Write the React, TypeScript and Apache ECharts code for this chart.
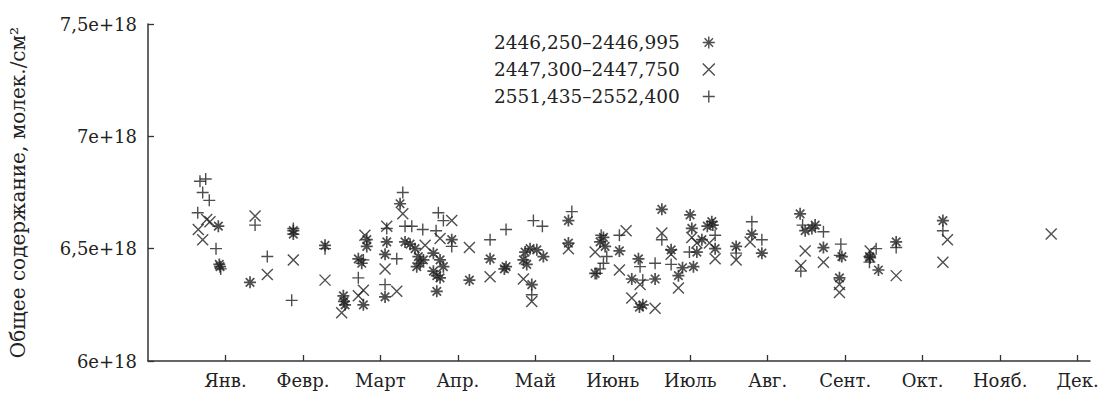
import React, { useEffect, useRef } from "react";
import * as echarts from "echarts";

const MONTHS = ["Янв.", "Февр.", "Март", "Апр.", "Май", "Июнь", "Июль", "Авг.", "Сент.", "Окт.", "Нояб.", "Дек."];
const MONTH_TICKS = [1, 2, 3, 4, 5, 6, 7, 8, 9, 10, 11, 12];

const SERIES_NAMES = ["2446,250–2446,995", "2447,300–2447,750", "2551,435–2552,400"];
const Y_AXIS_NAME = "Общее содержание, молек./см²";
const UNIT = 1e18;

// [month, total content in 1e18 molec./cm²]
const SERIES_STAR: number[][] = [
  [0.908, 6.6], [0.93, 6.42], [0.92, 6.43], [1.317, 6.35], [1.876, 6.565], [1.876, 6.58], [2.285, 6.515],
  [2.522, 6.29], [2.53, 6.265], [2.544, 6.25], [2.715, 6.455], [2.759, 6.435], [2.78, 6.25], [2.824, 6.54],
  [2.824, 6.51], [3.082, 6.53], [3.06, 6.475], [3.06, 6.285], [3.254, 6.7], [3.318, 6.53], [3.383, 6.52],
  [3.447, 6.5], [3.49, 6.465], [3.512, 6.435], [3.469, 6.42], [3.555, 6.45], [3.684, 6.4], [3.728, 6.38],
  [3.77, 6.37], [3.813, 6.42], [3.684, 6.48], [3.77, 6.45], [3.921, 6.54], [3.728, 6.31], [4.149, 6.36],
  [4.416, 6.455], [4.622, 6.42], [4.6, 6.41], [4.868, 6.485], [4.932, 6.5], [5.019, 6.495], [5.104, 6.465],
  [4.846, 6.45], [4.889, 6.43], [4.954, 6.34], [5.427, 6.625], [5.427, 6.525], [5.879, 6.55], [5.836, 6.53],
  [5.901, 6.51], [5.772, 6.39], [6.085, 6.49], [6.245, 6.365], [6.331, 6.455], [6.344, 6.24], [6.387, 6.25],
  [6.546, 6.365], [6.633, 6.675], [6.753, 6.495], [6.847, 6.38], [6.998, 6.65], [7.02, 6.59], [7.15, 6.54],
  [7.085, 6.485], [7.041, 6.42], [6.9, 6.415], [7.278, 6.62], [7.291, 6.605], [7.22, 6.6], [7.321, 6.5],
  [7.592, 6.51], [7.795, 6.565], [7.924, 6.48], [8.418, 6.655], [8.483, 6.58], [8.612, 6.605], [8.57, 6.59],
  [8.719, 6.505], [8.957, 6.465], [8.926, 6.37], [9.313, 6.465], [9.322, 6.46], [9.429, 6.405], [9.658, 6.53],
  [10.261, 6.625],
];

const SERIES_CROSS: number[][] = [
  [0.649, 6.585], [0.706, 6.54], [0.758, 6.63], [0.8, 6.62], [1.382, 6.645], [1.54, 6.385], [1.876, 6.45],
  [2.285, 6.36], [2.5, 6.215], [2.715, 6.29], [2.78, 6.315], [2.8, 6.56], [3.082, 6.6], [3.06, 6.41],
  [3.211, 6.31], [3.289, 6.655], [3.577, 6.515], [3.77, 6.545], [3.921, 6.625], [4.149, 6.505], [4.416, 6.375],
  [4.846, 6.365], [4.954, 6.265], [5.427, 6.5], [5.772, 6.485], [6.172, 6.58], [6.085, 6.405], [6.245, 6.28],
  [6.352, 6.34], [6.546, 6.235], [6.633, 6.57], [6.753, 6.475], [6.847, 6.325], [7.02, 6.55], [7.085, 6.525],
  [7.247, 6.525], [7.321, 6.455], [7.592, 6.45], [7.773, 6.53], [8.483, 6.49], [8.427, 6.425], [8.719, 6.44],
  [8.926, 6.34], [8.926, 6.305], [9.322, 6.49], [9.658, 6.38], [10.32, 6.54], [10.261, 6.44], [11.659, 6.565],
];

const SERIES_PLUS: number[][] = [
  [0.671, 6.8], [0.745, 6.81], [0.706, 6.75], [0.791, 6.715], [0.642, 6.66], [0.878, 6.5], [0.939, 6.41],
  [1.382, 6.605], [1.54, 6.465], [1.855, 6.27], [1.876, 6.59], [2.285, 6.5], [2.715, 6.37], [2.78, 6.45],
  [3.06, 6.34], [3.082, 6.59], [3.211, 6.455], [3.289, 6.75], [3.318, 6.6], [3.405, 6.6], [3.547, 6.585],
  [3.719, 6.58], [3.748, 6.66], [3.813, 6.625], [3.921, 6.51], [4.416, 6.54], [4.622, 6.585], [4.954, 6.295],
  [4.975, 6.625], [5.091, 6.6], [5.471, 6.665], [5.793, 6.39], [5.836, 6.41], [5.879, 6.435], [5.922, 6.465],
  [5.85, 6.56], [6.085, 6.56], [6.352, 6.42], [6.387, 6.36], [6.546, 6.435], [6.633, 6.54], [6.753, 6.43],
  [6.989, 6.485], [7.321, 6.56], [7.592, 6.48], [7.795, 6.62], [7.924, 6.54], [8.427, 6.4], [8.45, 6.605],
  [8.719, 6.575], [8.944, 6.52], [8.93, 6.47], [9.4, 6.5], [9.313, 6.44], [9.658, 6.505], [10.261, 6.58],
];

const SYM_STAR = "path://M5 0L5 10M0 5L10 5M1.46 1.46L8.54 8.54M8.54 1.46L1.46 8.54";
const SYM_CROSS = "path://M0 0L10 10M10 0L0 10";
const SYM_PLUS = "path://M5 0L5 10M0 5L10 5";

const FONT = "DejaVu Serif";
const INK = "#222";

function toData(arr: number[][]) {
  return arr.map(([m, v]) => [m, v * UNIT]);
}

export default function App() {
  const ref = useRef<HTMLDivElement>(null);
  useEffect(() => {
    document.body.style.margin = "0";
    if (!ref.current) return;
    const chart = echarts.init(ref.current, undefined, { renderer: "svg" });
    const mkSeries = (name: string, data: number[][], symbol: string, size: number, bw: number) => ({
      name,
      type: "scatter",
      data: toData(data),
      symbol,
      symbolSize: size,
      itemStyle: { color: INK, borderColor: INK, borderWidth: bw },
      emphasis: { disabled: true },
    });
    chart.setOption({
      animation: false,
      grid: { left: 148, right: 12, top: 24, bottom: 33, containLabel: false },
      legend: {
        orient: "vertical",
        left: 489,
        top: 28,
        align: "right",
        itemWidth: 48,
        itemHeight: 12,
        itemGap: 8,
        textStyle: { fontFamily: FONT, fontSize: 18.5, color: INK },
        itemStyle: { borderWidth: 1.4, borderColor: INK, color: INK },
        data: SERIES_NAMES,
      },
      xAxis: {
        type: "value",
        min: 0,
        max: 12.16,
        interval: 1,
        axisLine: { lineStyle: { color: "#333", width: 1.5 } },
        axisTick: { inside: true, length: 6, customValues: MONTH_TICKS, lineStyle: { color: "#333", width: 1.3 } },
        axisLabel: {
          customValues: MONTH_TICKS,
          formatter: (v: number) => MONTHS[Math.round(v) - 1] ?? "",
          fontFamily: FONT,
          fontSize: 18,
          color: INK,
          margin: 10,
        },
        splitLine: { show: false },
      },
      yAxis: {
        type: "value",
        min: 6 * UNIT,
        max: 7.5 * UNIT,
        interval: 0.5 * UNIT,
        name: Y_AXIS_NAME,
        nameLocation: "middle",
        nameGap: 120,
        nameTextStyle: { fontFamily: FONT, fontSize: 20, color: INK },
        axisLine: { show: true, lineStyle: { color: "#333", width: 1.5 } },
        axisTick: { show: true, inside: true, length: 6, lineStyle: { color: "#333", width: 1.3 } },
        axisLabel: {
          formatter: (v: number) => String(Math.round((v / UNIT) * 10) / 10).replace(".", ",") + "e+18",
          fontFamily: FONT,
          fontSize: 18,
          color: INK,
          margin: 11,
        },
        splitLine: { show: false },
      },
      series: [
        mkSeries(SERIES_NAMES[0], SERIES_STAR, SYM_STAR, 12, 1.7),
        mkSeries(SERIES_NAMES[1], SERIES_CROSS, SYM_CROSS, 11, 1.4),
        mkSeries(SERIES_NAMES[2], SERIES_PLUS, SYM_PLUS, 12, 1.4),
      ],
    });
    return () => chart.dispose();
  }, []);
  return <div ref={ref} style={{ width: 1102, height: 394 }} />;
}
